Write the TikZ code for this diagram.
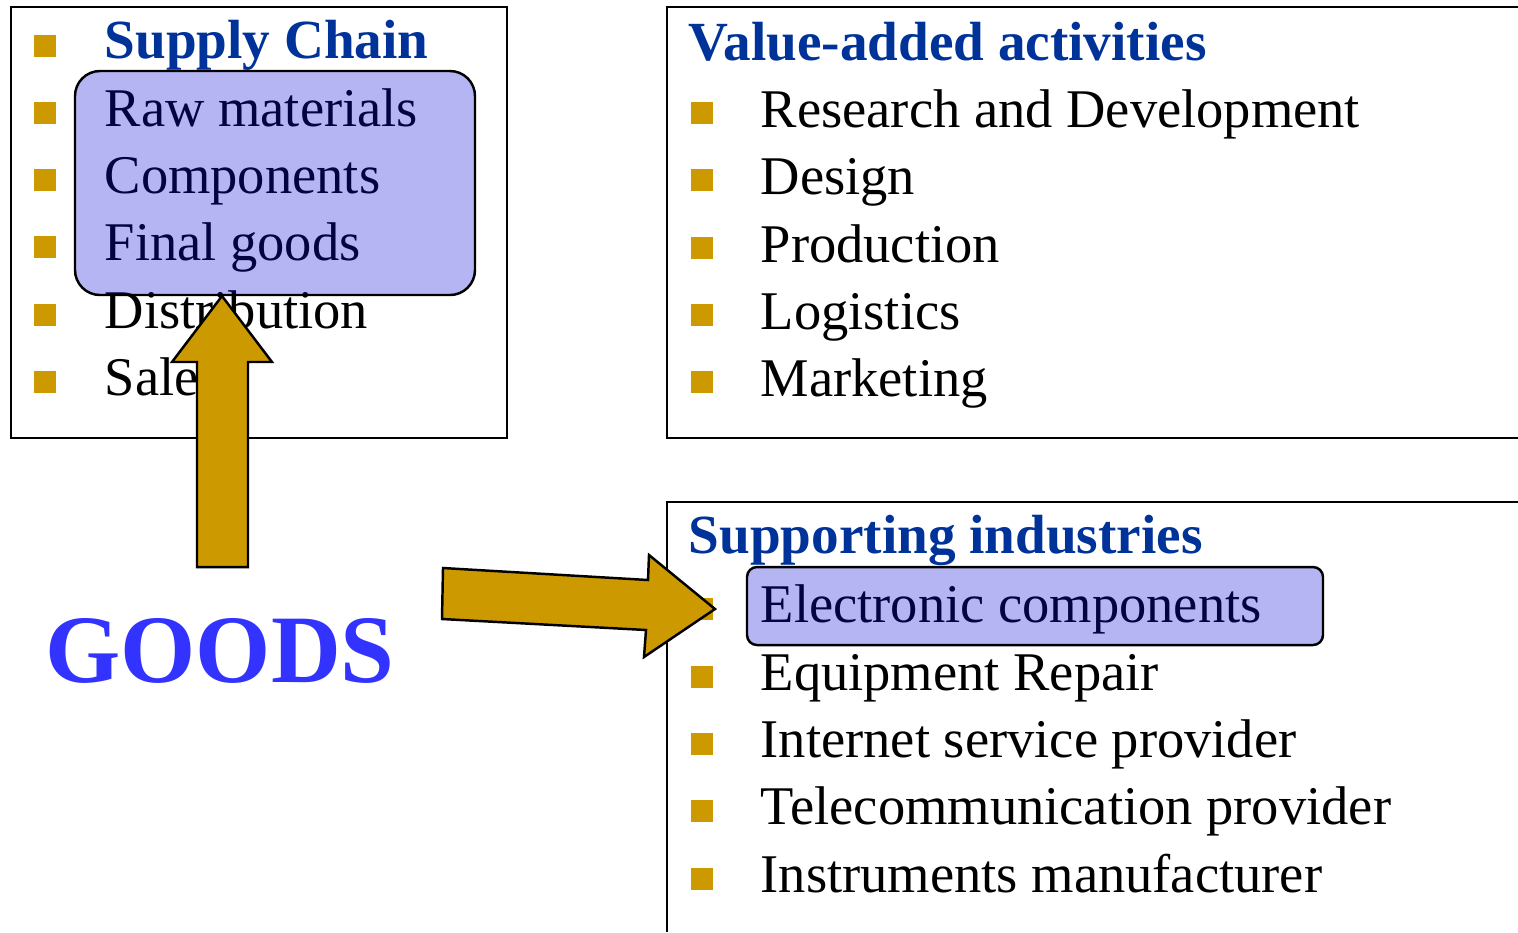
\documentclass[tikz,border=0pt]{standalone}
\usepackage{fontspec}
\setmainfont{Liberation Serif}
\definecolor{gold}{RGB}{204,153,0}
\definecolor{headblue}{RGB}{0,51,153}
\definecolor{goodsblue}{RGB}{51,51,255}
\definecolor{hilite}{RGB}{10,10,215}
\tikzset{
	bullet/.style={fill=gold, inner sep=0pt, minimum size=0.22cm},
	item/.style={anchor=base west, inner sep=0pt, font=\fontsize{15.5}{18}\selectfont},
	head/.style={item, color=headblue, font=\fontsize{15.7}{18}\selectfont\bfseries},
	frame/.style={line width=0.7pt},
	hilitebox/.style={draw=black, line width=0.7pt, fill=hilite, fill opacity=0.3},
	bigarrow/.style={draw=black, line width=0.7pt, fill=gold, line join=miter}
}
\begin{document}
\begin{tikzpicture}[x=0.01cm, y=-0.01cm]
			\useasboundingbox (0,0) rectangle (1518,932);

			% Frames
			\draw[frame] (11,7) rectangle (507,438);
			\draw[frame] (1518,7) -- (667,7) -- (667,438) -- (1518,438);
			\draw[frame] (1518,502) -- (667,502) -- (667,932);

			% Supply chain
			\node[bullet] (sb0) at (45,46) {};
			\node[bullet] (sb1) at (45,113) {};
			\node[bullet] (sb2) at (45,180) {};
			\node[bullet] (sb3) at (45,247) {};
			\node[bullet] (sb4) at (45,315) {};
			\node[bullet] (sb5) at (45,382) {};
			\node[head] (sc0) at (104,58) {Supply Chain};
			\node[item] (sc1) at (104,126) {Raw materials};
			\node[item] (sc2) at (104,193) {Components};
			\node[item] (sc3) at (104,260) {Final goods};
			\node[item] (sc4) at (104,328) {Distribution};
			\node[item] (sc5) at (104,395) {Sale};

			% Value-added activities
			\node[head] (va0) at (688,60) {Value-added activities};
			\node[bullet] (vb1) at (702,113) {};
			\node[bullet] (vb2) at (702,180) {};
			\node[bullet] (vb3) at (702,248) {};
			\node[bullet] (vb4) at (702,315) {};
			\node[bullet] (vb5) at (702,382) {};
			\node[item] (va1) at (760,127) {Research and Development};
			\node[item] (va2) at (760,194) {Design};
			\node[item] (va3) at (760,262) {Production};
			\node[item] (va4) at (760,329) {Logistics};
			\node[item] (va5) at (760,396) {Marketing};

			% Supporting industries
			\node[head] (si0) at (688,553) {Supporting industries};
			\node[bullet] (ib1) at (702,609) {};
			\node[bullet] (ib2) at (702,677) {};
			\node[bullet] (ib3) at (702,744) {};
			\node[bullet] (ib4) at (702,811) {};
			\node[bullet] (ib5) at (702,879) {};
			\node[item] (si1) at (760,622) {Electronic components};
			\node[item] (si2) at (760,690) {Equipment Repair};
			\node[item] (si3) at (760,757) {Internet service provider};
			\node[item] (si4) at (760,824) {Telecommunication provider};
			\node[item] (si5) at (760,892) {Instruments manufacturer};

			% Highlights
			\draw[hilitebox, rounded corners=0.25cm] (75,71) rectangle (475,295);
			\draw[hilitebox, rounded corners=0.1cm] (747,567) rectangle (1323,645);

			% Goods and arrows
			\node[color=goodsblue, font=\fontsize{27.5}{32}\selectfont\bfseries] (goods) at (220,651) {GOODS};
			\draw[bigarrow] (197,567) -- (197,362) -- (172,362) -- (222,296) -- (272,362) -- (248,362) -- (248,567) -- cycle;
			\draw[bigarrow] (443,568) -- (648,580) -- (649,555) -- (715,609) -- (644,657) -- (646,630) -- (442,619) -- cycle;

		\end{tikzpicture}
\end{document}
